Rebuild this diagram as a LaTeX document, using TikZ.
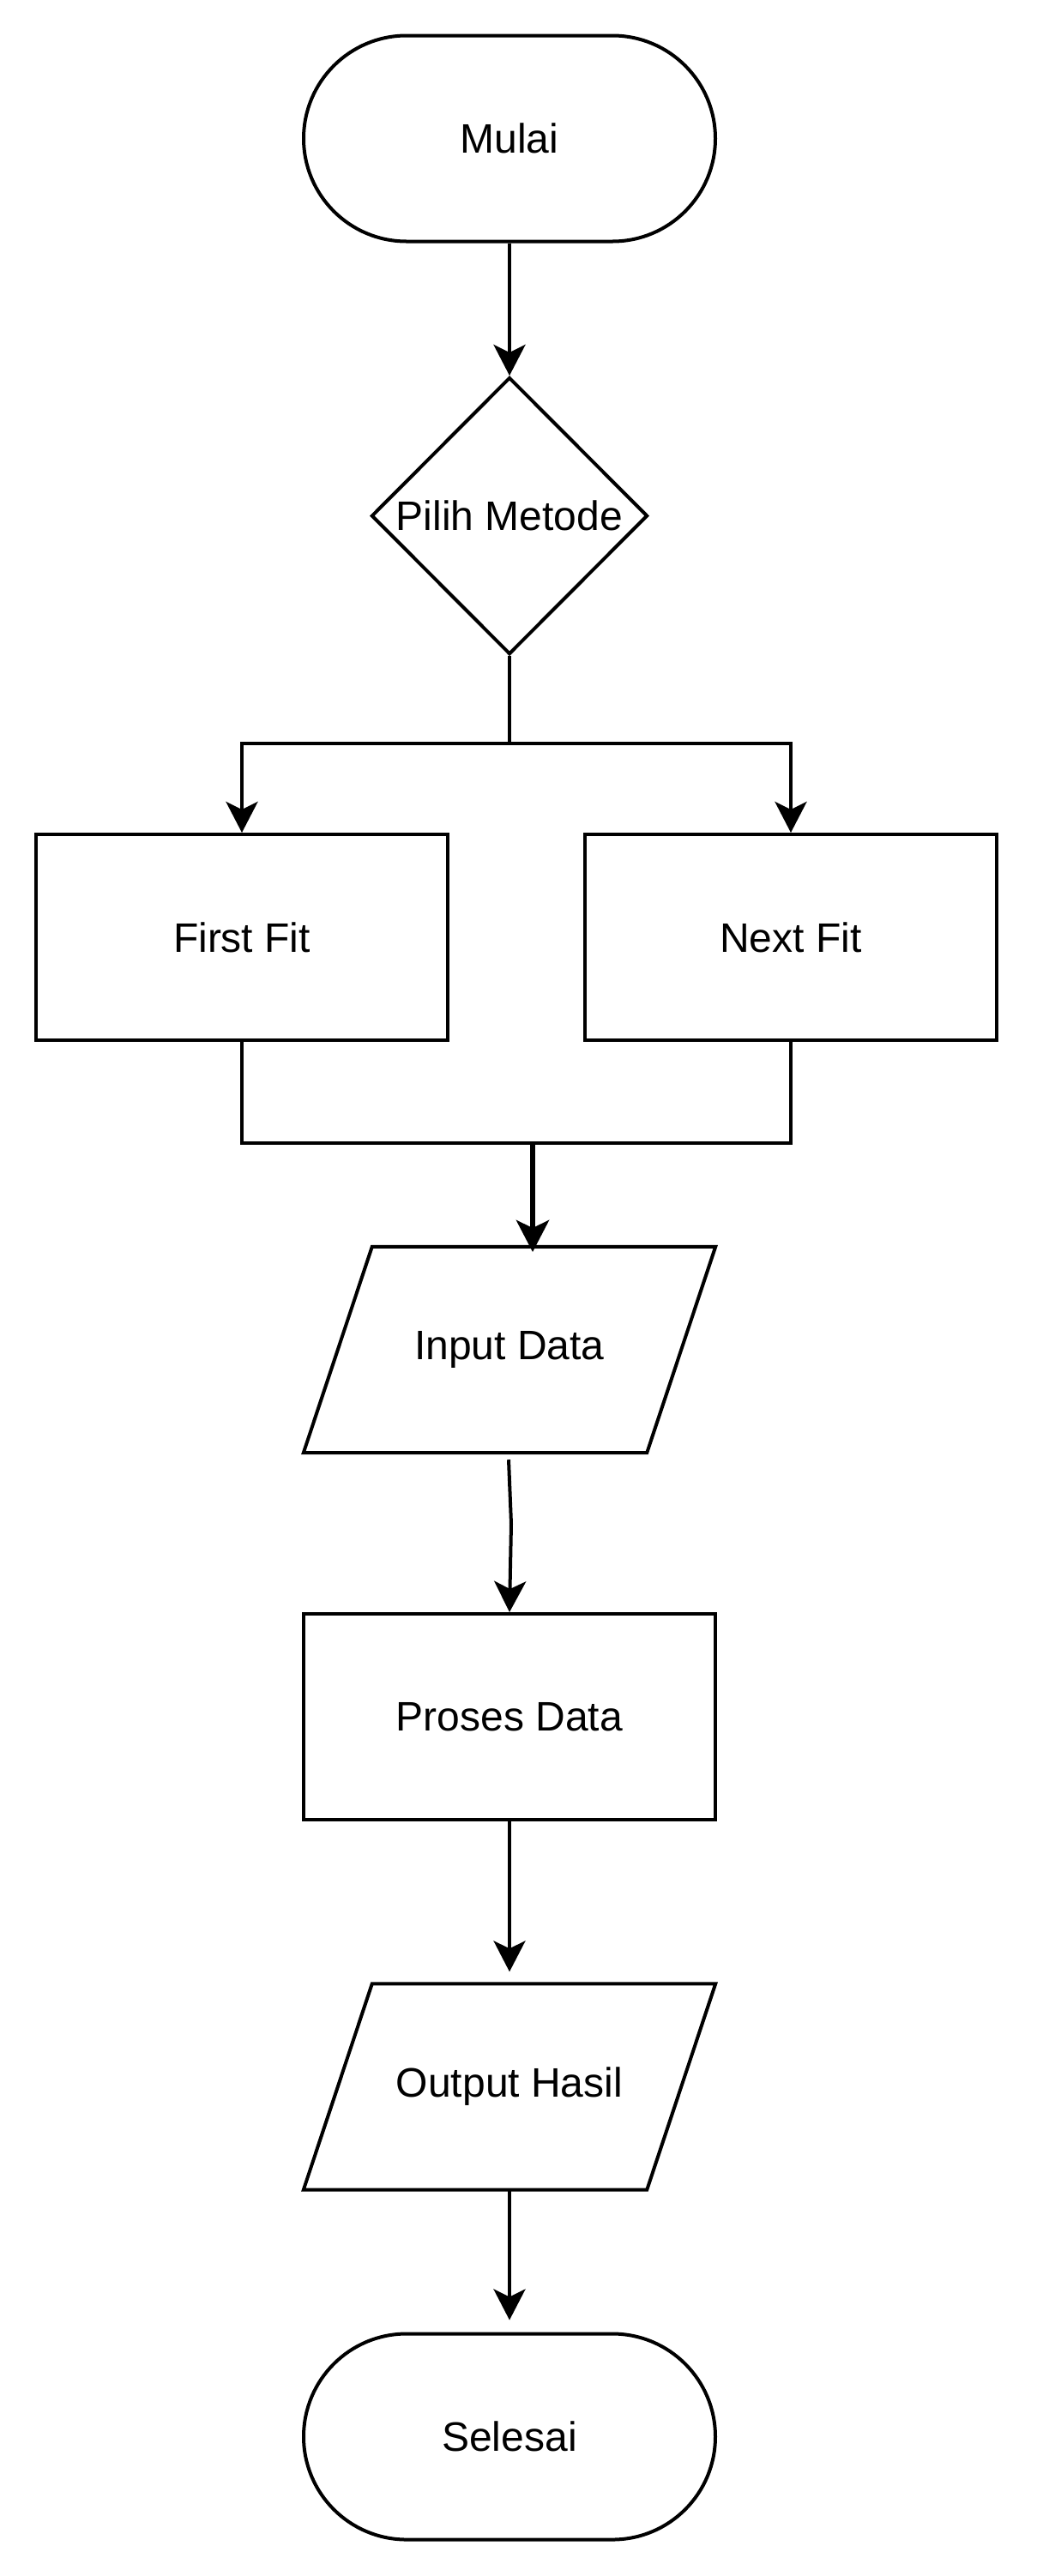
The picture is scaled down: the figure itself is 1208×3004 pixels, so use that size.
\documentclass[tikz,border=0pt]{standalone}
\usepackage{fontspec}
\setmainfont{Liberation Sans}
\usetikzlibrary{arrows.meta,shapes.geometric}
\begin{document}
\begin{tikzpicture}[x=1pt,y=-1pt,
  every node/.style={font=\fontsize{48}{57}\selectfont, inner sep=0pt, align=center},
  line/.style={line width=4pt, line join=miter},
  arr/.style={line, -{Stealth[length=36pt,width=37pt,inset=9pt]}},
  thickarr/.style={line width=6pt, -{Stealth[length=37pt,width=38pt,inset=9pt]}},
  term/.style={draw, line width=4pt, rounded corners=120pt, minimum width=480pt, minimum height=240pt},
  proc/.style={draw, line width=4pt, minimum width=480pt, minimum height=240pt},
  dec/.style={draw, line width=4pt, diamond, minimum width=322pt, minimum height=323pt},
  io/.style={minimum width=400pt, minimum height=240pt},
]
\useasboundingbox (0,0) rectangle (1208,3004);

\node[term] (start) at (594,161.5) {Mulai};
\node[dec]  (dec)   at (594,601.5) {Pilih Metode};
\node[proc] (ff)    at (282,1093) {First Fit};
\node[proc] (nf)    at (922,1093) {Next Fit};
\node[io]   (inp)   at (594,1574) {Input Data};
\node[proc] (proc)  at (594,2002) {Proses Data};
\node[io]   (out)   at (594,2433.5) {Output Hasil};
\node[term] (stop)  at (594,2841.5) {Selesai};

% parallelograms
\draw[line] ([xshift=40pt]inp.north west) -- ([xshift=40pt]inp.north east)
  -- ([xshift=-40pt]inp.south east) -- ([xshift=-40pt]inp.south west) -- cycle;
\draw[line] ([xshift=40pt]out.north west) -- ([xshift=40pt]out.north east)
  -- ([xshift=-40pt]out.south east) -- ([xshift=-40pt]out.south west) -- cycle;

% connectors
\coordinate (split) at (594,867);
\coordinate (merge) at (621,1333);
\coordinate (mergeend) at (621,1460);
\coordinate (bend) at (596,1777);

\draw[arr] (start.south) -- (dec.north);
\draw[line] (dec.south) -- (split);
\draw[arr] (split) -| (ff.north);
\draw[arr] (split) -| (nf.north);
\draw[line] (ff.south) -- (ff.south |- merge) -- (nf.south |- merge) -- (nf.south);
\draw[thickarr] (merge) -- (mergeend);
\draw[arr] ([shift={(-1pt,-8pt)}]inp.south) -- (bend) -- (proc.north);
\draw[arr, shorten >=14pt] (proc.south) -- (out.north);
\draw[arr, shorten >=14pt] (out.south) -- (stop.north);
\end{tikzpicture}
\end{document}
